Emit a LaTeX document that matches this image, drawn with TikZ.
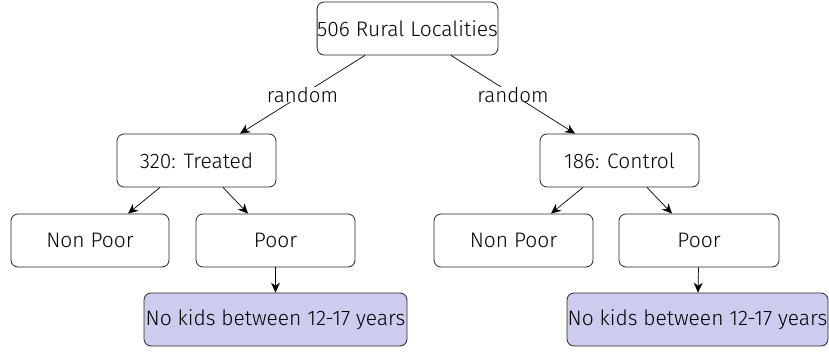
\documentclass[tikz,border=0pt]{standalone}
\usepackage{fontspec}
\setmainfont{Fira Sans Light}
\usetikzlibrary{arrows.meta}
\definecolor{boxfill}{RGB}{204,204,238}
\begin{document}
\begin{tikzpicture}[x=1pt,y=-1pt,
  box/.style={draw=black!85, rounded corners=7pt, minimum height=53pt, inner sep=0pt, font=\fontsize{21}{24}\selectfont, line width=0.8pt},
  shaded/.style={box, fill=boxfill},
  conn/.style={-{Stealth[length=10pt,width=9pt]}, line width=0.7pt},
  lbl/.style={fill=white, inner sep=0pt, font=\fontsize{20.5}{24}\selectfont}]
\useasboundingbox (0,0) rectangle (829,351);
\node[box, minimum width=179pt] (root) at (407.5,28.5) {506 Rural Localities};
\node[box, minimum width=159pt] (tr) at (196.5,160.5) {320: Treated};
\node[box, minimum width=159pt] (ct) at (619.5,160.5) {186: Control};
\node[box, minimum width=158pt] (np1) at (90,240.5) {Non Poor};
\node[box, minimum width=159pt] (p1) at (275.5,240.5) {Poor};
\node[box, minimum width=159pt] (np2) at (513.5,240.5) {Non Poor};
\node[box, minimum width=160pt] (p2) at (699,240.5) {Poor};
\node[shaded, minimum width=263pt] (k1) at (275.5,319.5) {No kids between 12-17 years};
\node[shaded, minimum width=261pt] (k2) at (697.5,319.5) {No kids between 12-17 years};
\draw[conn] (root.south -| 365,0) -- node[lbl] {random} (tr.north -| 240,0);
\draw[conn] (root.south -| 451,0) -- node[lbl] {random} (ct.north -| 575,0);
\draw[conn] (tr.south -| 160,0) -- (np1.north -| 128,0);
\draw[conn] (tr.south -| 223,0) -- (p1.north -| 248,0);
\draw[conn] (ct.south -| 583,0) -- (np2.north -| 551,0);
\draw[conn] (ct.south -| 647,0) -- (p2.north -| 672,0);
\draw[conn] (p1) -- (k1);
\draw[conn] (p2) -- (k2);
\end{tikzpicture}
\end{document}
